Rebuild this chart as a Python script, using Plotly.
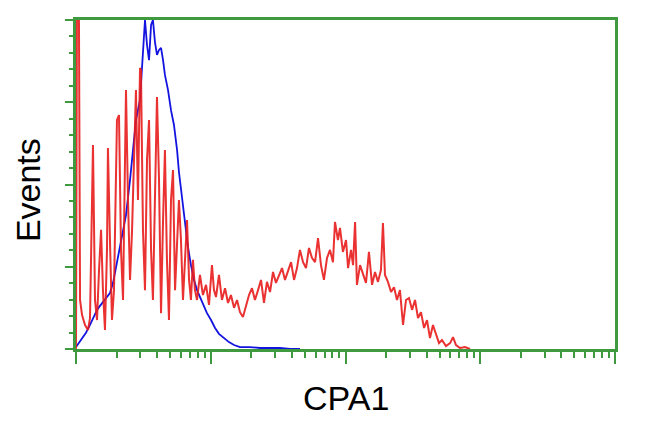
import plotly.graph_objects as go

# Fluorescence position in decades (log10 of CPA1 intensity) and event counts
blue_log = [0.000, 0.015, 0.030, 0.052, 0.074, 0.104, 0.134, 0.156, 0.178, 0.200,
            0.223, 0.252, 0.275, 0.297, 0.327, 0.349, 0.371, 0.401, 0.423, 0.445,
            0.475, 0.490, 0.505, 0.512, 0.527, 0.542, 0.557, 0.571, 0.586, 0.601,
            0.616, 0.631, 0.646, 0.660, 0.683, 0.705, 0.727, 0.750, 0.764, 0.787,
            0.809, 0.831, 0.853, 0.876, 0.898, 0.920, 0.950, 0.972, 1.002, 1.032,
            1.061, 1.098, 1.135, 1.173, 1.217, 1.291, 1.365, 1.440, 1.514, 1.588, 1.662]
blue_counts = [0.6, 1.5, 2.4, 3.6, 4.9, 7.3, 10.0, 11.9, 13.1, 14.3,
               15.2, 17.0, 20.1, 24.6, 31.6, 36.2, 40.7, 51.4, 61.1, 69.6,
               75.7, 84.8, 97.0, 100.0, 92.4, 87.8, 98.5, 100.0, 93.3, 89.4,
               90.9, 91.5, 87.8, 83.3, 78.7, 72.6, 68.1, 60.5, 53.8, 45.3,
               37.7, 31.0, 25.5, 21.0, 17.9, 15.8, 12.8, 10.9, 8.8, 6.4,
               4.6, 3.3, 2.1, 1.2, 0.6, 0.6, 0.3, 0.3, 0.3, 0.0, 0.0]

red_log = [0.000, 0.007, 0.022, 0.030, 0.045, 0.067, 0.089, 0.104, 0.119, 0.126,
           0.141, 0.156, 0.171, 0.186, 0.200, 0.215, 0.230, 0.237, 0.252, 0.267,
           0.282, 0.297, 0.304, 0.319, 0.334, 0.349, 0.364, 0.371, 0.386, 0.401,
           0.416, 0.430, 0.445, 0.460, 0.475, 0.482, 0.497, 0.512, 0.527, 0.542,
           0.557, 0.571, 0.586, 0.601, 0.616, 0.631, 0.646, 0.660, 0.675, 0.690,
           0.705, 0.720, 0.735, 0.750, 0.764, 0.779, 0.794, 0.809, 0.824, 0.839,
           0.853, 0.868, 0.883,
           0.898, 0.920, 0.942, 0.965, 0.987, 1.009, 1.024, 1.039, 1.061, 1.083,
           1.106, 1.128, 1.150, 1.173, 1.195, 1.217, 1.239, 1.262, 1.284, 1.306,
           1.328, 1.351, 1.373, 1.395, 1.417, 1.440, 1.462, 1.484, 1.507, 1.529,
           1.551, 1.573, 1.596, 1.618, 1.640, 1.662, 1.685, 1.707, 1.729, 1.751,
           1.774, 1.796, 1.818, 1.840, 1.863, 1.885, 1.907, 1.922, 1.944, 1.959,
           1.981, 2.004, 2.019, 2.041, 2.056, 2.071, 2.085, 2.108, 2.130, 2.152,
           2.174, 2.197, 2.219, 2.241, 2.263, 2.278, 2.293, 2.315, 2.338, 2.360,
           2.382, 2.404, 2.427, 2.449, 2.471, 2.494, 2.516, 2.538, 2.560, 2.583,
           2.605, 2.627, 2.649, 2.672, 2.694, 2.716, 2.746, 2.776, 2.798, 2.820,
           2.850, 2.887, 2.924]
red_counts = [0.0, 100.0, 100.0, 14.9, 10.3, 7.3, 5.8, 9.4, 45.3, 62.0,
              14.9, 8.8, 24.0, 36.2, 17.9, 5.8, 30.1, 61.1, 33.1, 8.8,
              17.9, 63.5, 69.6, 71.1, 30.1, 14.9, 51.4, 78.7, 45.3, 21.0,
              36.2, 60.5, 78.7, 45.3, 85.4, 84.8, 36.2, 17.9, 57.4, 69.6,
              30.1, 14.9, 48.3, 76.6, 51.4, 10.9, 39.2, 60.5, 27.1, 8.8,
              45.3, 54.4, 17.9, 30.1, 45.3, 33.1, 14.9, 27.1, 39.2, 21.0,
              14.9, 27.1, 17.9,
              14.9, 22.5, 16.4, 19.5, 13.4, 25.5, 17.9, 15.8, 22.5, 14.9,
              18.5, 14.0, 16.4, 12.5, 14.9, 11.2, 9.7, 13.4, 16.4, 18.5,
              14.9, 17.9, 21.0, 14.0, 20.4, 17.3, 23.4, 20.1, 22.5, 24.6,
              21.0, 24.0, 26.4, 21.0, 24.6, 30.1, 26.4, 24.6, 30.7, 27.7,
              26.4, 33.7, 25.5, 21.0, 27.7, 30.1, 26.4, 38.6, 33.1, 36.8,
              29.5, 33.1, 24.6, 30.1, 25.5, 38.6, 19.5, 25.5, 22.5, 20.1,
              29.5, 19.5, 23.4, 20.4, 24.0, 38.3, 22.5, 20.4, 17.3, 18.8,
              14.9, 17.9, 7.3, 14.9, 15.5, 11.9, 14.9, 9.4, 11.2, 6.4,
              8.8, 3.3, 7.3, 4.3, 1.8, 2.7, 0.9, 1.8, 3.6, 1.2,
              0.3, 0.6, 0.0]

x_tickvals = [1, 10, 100, 1000, 10000]
y_tickvals = [0, 25, 50, 75, 100]
x_title = "CPA1"
y_title = "Events"

GREEN = "#3f9a3f"

fig = go.Figure()
fig.add_trace(go.Scatter(
    x=[10 ** v for v in blue_log], y=blue_counts, mode="lines",
    line=dict(color="#1414e0", width=1.8), showlegend=False))
fig.add_trace(go.Scatter(
    x=[10 ** v for v in red_log], y=red_counts, mode="lines",
    line=dict(color="#e81c1c", width=2), opacity=0.9, showlegend=False))

fig.add_annotation(text=x_title, xref="paper", yref="paper", x=0.5, y=-0.148,
                   xanchor="center", yanchor="middle", showarrow=False,
                   font=dict(size=34))
fig.add_annotation(text=y_title, xref="paper", yref="paper", x=-0.089, y=0.483,
                   xanchor="center", yanchor="middle", showarrow=False,
                   textangle=-90, font=dict(size=34))

fig.update_layout(
    width=650, height=432,
    margin=dict(l=76, r=35, t=20, b=83),
    paper_bgcolor="white", plot_bgcolor="white",
    font=dict(family="Liberation Sans, Arial, sans-serif", color="black"),
    xaxis=dict(
        type="log", range=[0, 4], tickvals=x_tickvals, showticklabels=False,
        automargin=False,
        ticks="outside", ticklen=12, tickwidth=2, tickcolor=GREEN,
        minor=dict(ticks="outside", ticklen=6, tickwidth=2, tickcolor=GREEN, dtick="D1"),
        showgrid=False, zeroline=False,
        showline=True, linecolor=GREEN, linewidth=3, mirror=True,
    ),
    yaxis=dict(
        range=[0, 100], tickvals=y_tickvals, showticklabels=False,
        automargin=False,
        ticks="outside", ticklen=8, tickwidth=2, tickcolor=GREEN,
        minor=dict(ticks="outside", ticklen=4, tickwidth=2, tickcolor=GREEN, dtick=5),
        showgrid=False, zeroline=False,
        showline=True, linecolor=GREEN, linewidth=3, mirror=True,
    ),
)

fig.write_html("out.html", config={"displayModeBar": False},
               post_script="document.body.style.margin='0';")
